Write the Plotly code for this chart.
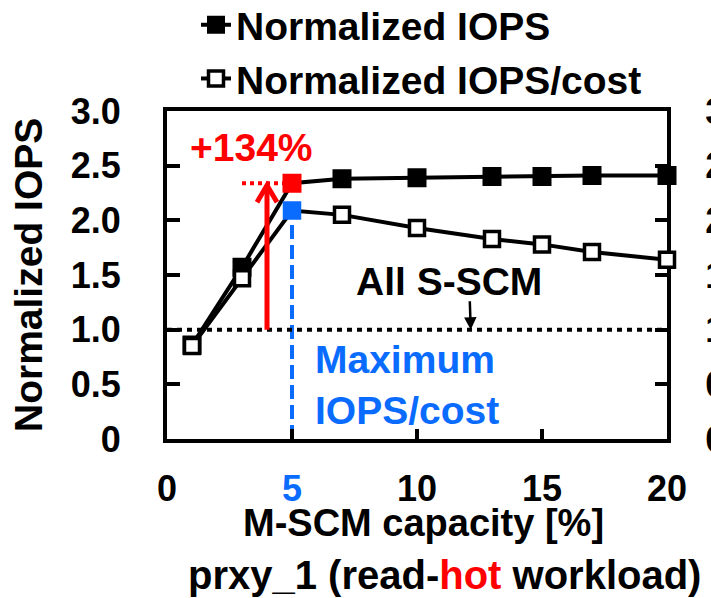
import plotly.graph_objects as go

# M-SCM capacity share [%] and the two normalized metrics
capacity = [1, 3, 5, 7, 10, 13, 15, 17, 20]
norm_iops = [0.86, 1.57, 2.34, 2.38, 2.39, 2.40, 2.40, 2.41, 2.41]
norm_iops_cost = [0.85, 1.47, 2.09, 2.05, 1.93, 1.83, 1.78, 1.71, 1.64]

y_ticks = [0, 0.5, 1.0, 1.5, 2.0, 2.5, 3.0]
y_tick_labels = ["0", "0.5", "1.0", "1.5", "2.0", "2.5", "3.0"]
x_ticks = [0, 5, 10, 15, 20]
x_tick_labels = ["0", "<span style='color:#0a6cff'>5</span>", "10", "15", "20"]

best_capacity = 5          # capacity with the highest IOPS/cost
all_sscm_level = 1.0       # all S-SCM baseline
gain_pct = 134             # IOPS gain at the best capacity
gain_arrow_x = 4           # where the gain arrow is drawn

BLUE = "#0a6cff"
RED = "#ff0000"
FONT = "Liberation Sans, Arial, sans-serif"

best_idx = capacity.index(best_capacity)
best_iops = norm_iops[best_idx]
best_cost = norm_iops_cost[best_idx]

iops_fill = [RED if i == best_idx else "black" for i in range(len(capacity))]
cost_fill = [BLUE if i == best_idx else "white" for i in range(len(capacity))]
cost_edge = [BLUE if i == best_idx else "black" for i in range(len(capacity))]

fig = go.Figure()

fig.add_trace(go.Scatter(
    x=capacity, y=norm_iops, name="Normalized IOPS",
    mode="lines+markers", cliponaxis=False,
    line=dict(color="black", width=4),
    marker=dict(symbol="square", size=17, color=iops_fill,
                line=dict(color=iops_fill, width=2)),
))
fig.add_trace(go.Scatter(
    x=capacity, y=norm_iops_cost, name="Normalized IOPS/cost",
    mode="lines+markers", cliponaxis=False,
    line=dict(color="black", width=4),
    marker=dict(symbol="square", size=15, color=cost_fill,
                line=dict(color=cost_edge, width=3.5)),
))
# carrier for the right-hand axis
fig.add_trace(go.Scatter(
    x=[0, 20], y=[0, 0], yaxis="y2", mode="lines",
    line=dict(width=0), showlegend=False, hoverinfo="skip",
))

shapes = [
    # all S-SCM baseline
    dict(type="line", xref="x", yref="y", x0=0, x1=20,
         y0=all_sscm_level, y1=all_sscm_level,
         line=dict(color="black", width=4, dash="5px,5px")),
    # best IOPS/cost capacity marker line
    dict(type="line", xref="x", yref="y", layer="below",
         x0=best_capacity, x1=best_capacity, y0=0, y1=best_cost,
         line=dict(color=BLUE, width=4, dash="14px,6px")),
    # level reached at the best capacity
    dict(type="line", xref="x", yref="y", layer="below",
         x0=3.0, x1=best_capacity,
         y0=all_sscm_level * (1 + gain_pct / 100),
         y1=all_sscm_level * (1 + gain_pct / 100),
         line=dict(color=RED, width=4, dash="4px,4px")),
    # gain arrow shaft
    dict(type="line", xref="x", yref="y",
         x0=gain_arrow_x, x1=gain_arrow_x,
         y0=all_sscm_level, y1=best_iops - 0.02,
         line=dict(color=RED, width=5)),
    # gain arrow head
    dict(type="path", xref="x", yref="y",
         xsizemode="pixel", ysizemode="pixel",
         xanchor=gain_arrow_x, yanchor=best_iops - 0.02,
         path="M -10,-17 L 0,0 L 10,-17",
         line=dict(color=RED, width=5)),
]

bold = lambda size, color="black": dict(family=FONT, size=size, color=color, weight="bold")

annotations = [
    dict(x=3.38, y=2.67, xref="x", yref="y", text=f"+{gain_pct}%",
         showarrow=False, font=bold(39, RED)),
    dict(x=5.85, y=0.49, xref="x", yref="y", text="Maximum<br>IOPS/cost",
         showarrow=False, xanchor="left", align="left", font=bold(39, BLUE)),
    dict(x=11.28, y=1.445, xref="x", yref="y", text="All S-SCM",
         showarrow=False, font=bold(39)),
    dict(x=12.15, y=all_sscm_level, xref="x", yref="y", text="",
         showarrow=True, ax=-1, ay=-30, arrowhead=2, arrowsize=1,
         arrowwidth=2.5, arrowcolor="black"),
    # axis titles and caption
    dict(x=-0.278, y=0.5, xref="paper", yref="paper", text="Normalized IOPS",
         xanchor="center", yanchor="middle",
         textangle=-90, showarrow=False, font=bold(39)),
    dict(x=0.513, y=-0.256, xref="paper", yref="paper", text="M-SCM capacity [%]",
         xanchor="center", yanchor="middle",
         showarrow=False, font=bold(38)),
    dict(x=0.038, y=-0.415, xref="paper", yref="paper",
         xanchor="left", yanchor="middle",
         text="prxy_1 (read-<span style='color:#ff0000'>hot</span> workload)",
         showarrow=False, font=bold(40)),
]

axis_common = dict(
    showline=True, linewidth=4, linecolor="black",
    ticks="inside", tickwidth=4, tickcolor="black",
    showgrid=False, zeroline=False, layer="below traces",
    automargin=False,
)

fig.update_layout(
    width=711, height=598,
    margin=dict(l=167, r=44, t=111, b=159, autoexpand=False),
    paper_bgcolor="white", plot_bgcolor="white",
    showlegend=True,
    legend=dict(x=0.058, y=1.36, xanchor="left", yanchor="top",
                bgcolor="rgba(0,0,0,0)", font=bold(39),
                tracegroupgap=0, itemwidth=30),
    xaxis=dict(range=[0, 20], tickvals=x_ticks, ticktext=x_tick_labels,
               ticklen=10, mirror=True, tickfont=bold(36),
               ticklabelstandoff=15, **axis_common),
    yaxis=dict(range=[0, 3], tickvals=y_ticks, ticktext=y_tick_labels,
               ticklen=13, tickfont=bold(36), ticklabelstandoff=35,
               **axis_common),
    yaxis2=dict(range=[0, 3], tickvals=y_ticks, ticktext=y_tick_labels,
                overlaying="y", side="right", anchor="x",
                ticklen=12, tickfont=bold(36), ticklabelstandoff=27,
                **axis_common),
    shapes=shapes,
    annotations=annotations,
)

fig.write_html("out.html")
